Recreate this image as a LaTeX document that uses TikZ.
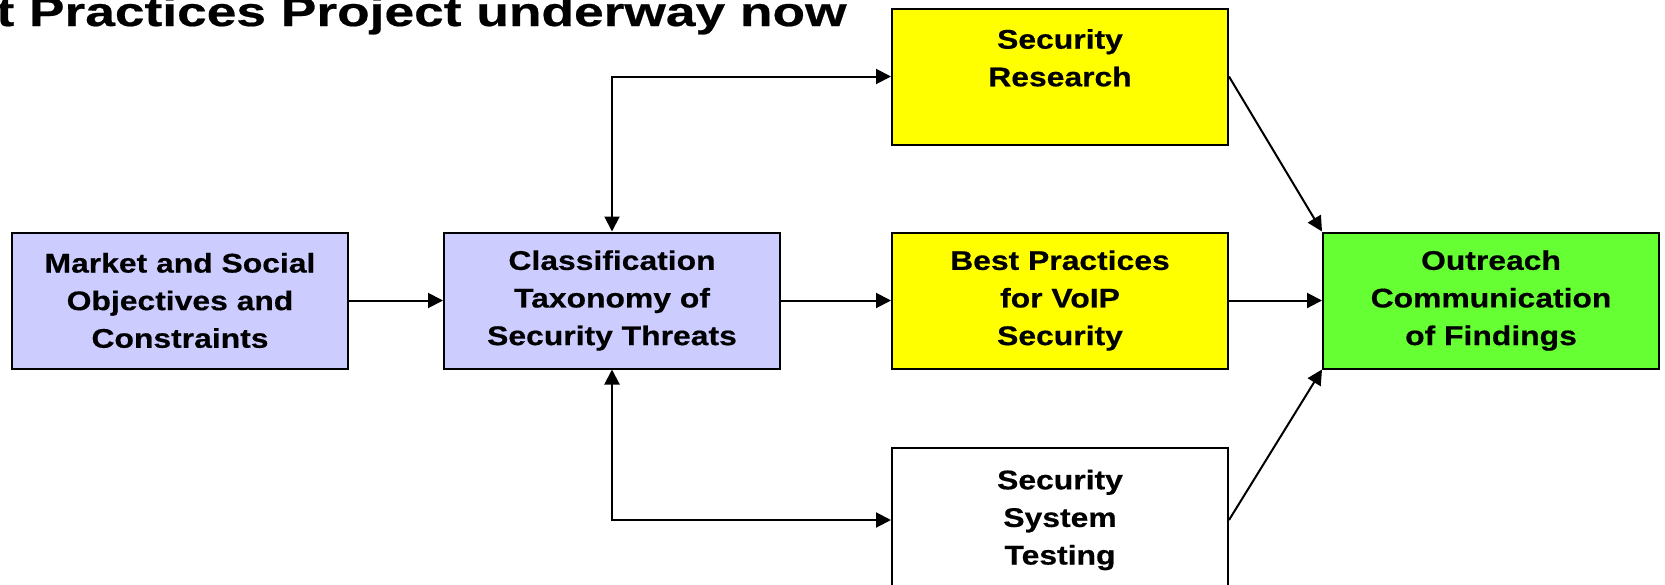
\documentclass[tikz,border=0pt]{standalone}
\usepackage{fontspec}
\newfontfamily\cajafont[FakeStretch=1.18, FakeBold=0.5]{Liberation Sans Bold}
\newfontfamily\titulofont[FakeStretch=1.30, FakeBold=0.5]{Liberation Sans Bold}
\definecolor{Lavanda}{RGB}{204,204,255}
\definecolor{Amarillo}{RGB}{255,255,0}
\definecolor{Verde}{RGB}{102,255,51}
\usetikzlibrary{arrows.meta, positioning}

\begin{document}
\begin{tikzpicture}[x=0.5pt, y=-0.5pt, node distance=47pt,
	caja/.style={rectangle, draw=black, line width=1pt, align=center,
		minimum width=168pt, minimum height=68pt, inner sep=0pt, fill=Lavanda,
		font=\cajafont\fontsize{13.5}{18.8}\selectfont},
	estudio/.style={caja, fill=Amarillo},
	difusion/.style={caja, fill=Verde},
	prueba/.style={caja, fill=white, minimum height=72pt},
	fl/.style={-{Triangle[length=7.5pt, width=7.5pt]}, line width=1pt},
	dfl/.style={{Triangle[length=7.5pt, width=7.5pt]}-{Triangle[length=7.5pt, width=7.5pt]}, line width=1pt}]

	\useasboundingbox (0,0) rectangle (1665,584);
	\node[anchor=base east, inner sep=0pt, font=\titulofont\fontsize{20.5}{24}\selectfont] (titulo) at (847,26) {t Practices Project underway now};

	\node[caja] (obj) at (180,300.5) {Market and Social\\Objectives and\\Constraints};
	\node[caja, right=47pt of obj] (tax) {Classification\\Taxonomy of\\Security Threats};
	\node[estudio, right=55pt of tax] (bp) {Best Practices\\for VoIP\\Security};
	\node[difusion, right=46.5pt of bp] (out) {Outreach\\Communication\\of Findings};
	\node[estudio, above=43pt of bp] (inv) {Security\\Research\\\mbox{}};
	\node[prueba, below=38.75pt of bp] (test) {Security\\System\\Testing};

	\draw[fl] (obj) -- (tax);
	\draw[fl] (tax) -- (bp);
	\draw[fl] (bp) -- (out);
	\draw[dfl] (inv.west) -| (tax.north);
	\draw[dfl] (test.west) -| (tax.south);
	\draw[fl] (inv.east) -- (out.north west);
	\draw[fl] (test.east) -- (out.south west);
\end{tikzpicture}
\end{document}
